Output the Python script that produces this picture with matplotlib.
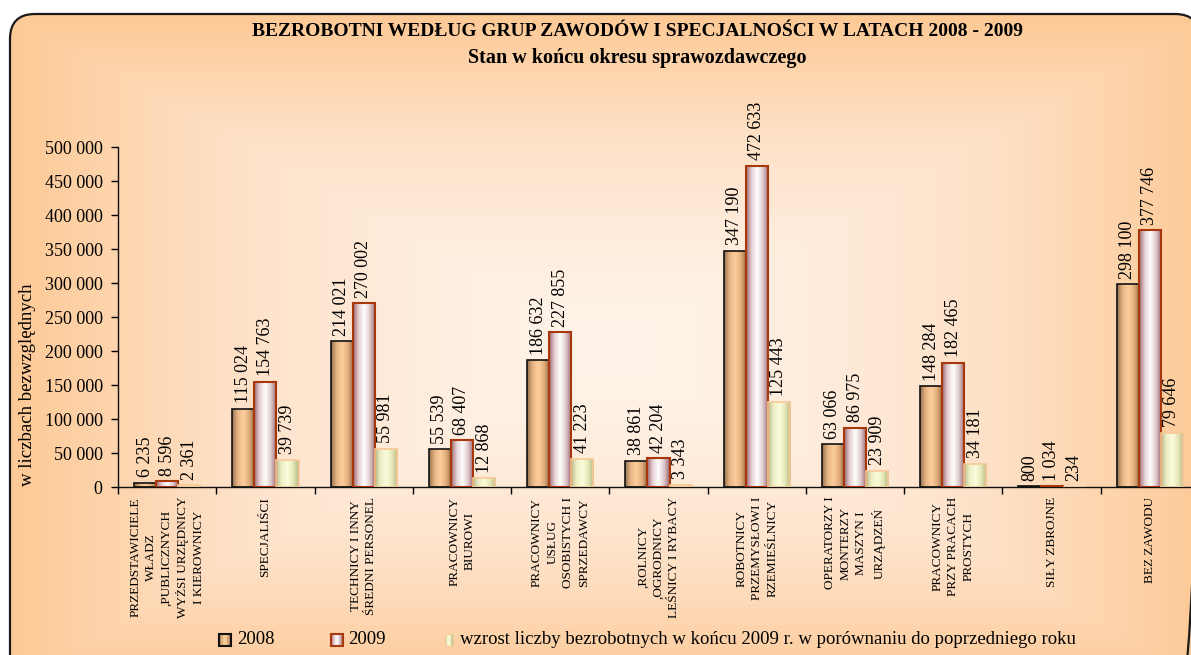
import numpy as np
import matplotlib
matplotlib.use('Agg')
import matplotlib.pyplot as plt
from matplotlib.colors import LinearSegmentedColormap
from matplotlib.patches import FancyBboxPatch, Rectangle

plt.rcParams['font.family'] = ['Liberation Serif', 'DejaVu Serif']

# Dane
kategorie = [
    'PRZEDSTAWICIELE\nWŁADZ\n,PUBLICZNYCH\nWYŻSI URZĘDNICY\nI KIEROWNICY',
    'SPECJALIŚCI',
    'TECHNICY I INNY\nŚREDNI PERSONEL',
    'PRACOWNICY\nBIUROWI',
    'PRACOWNICY\nUSŁUG\nOSOBISTYCH I\nSPRZEDAWCY',
    ',ROLNICY\n,OGRODNICY\nLEŚNICY I RYBACY',
    'ROBOTNICY\nPRZEMYSŁOWI I\nRZEMIEŚLNICY',
    'OPERATORZY I\nMONTERZY\nMASZYN I\nURZĄDZEŃ',
    'PRACOWNICY\nPRZY PRACACH\nPROSTYCH',
    'SIŁY ZBROJNE',
    'BEZ ZAWODU',
]
bezrobotni_2008 = [6235, 115024, 214021, 55539, 186632, 38861, 347190, 63066, 148284, 800, 298100]
bezrobotni_2009 = [8596, 154763, 270002, 68407, 227855, 42204, 472633, 86975, 182465, 1034, 377746]
wzrost = [2361, 39739, 55981, 12868, 41223, 3343, 125443, 23909, 34181, 234, 79646]
y_ticks = [0, 50000, 100000, 150000, 200000, 250000, 300000, 350000, 400000, 450000, 500000]

tytul = 'BEZROBOTNI WEDŁUG GRUP ZAWODÓW I SPECJALNOŚCI W LATACH 2008 - 2009'
podtytul = 'Stan w końcu okresu sprawozdawczego'
etykieta_y = 'w liczbach bezwzględnych'
legenda = ['2008', '2009',
           'wzrost liczby bezrobotnych w końcu 2009 r. w porównaniu do poprzedniego roku']


def fmt(v):
    return f'{v:,}'.replace(',', ' ')


# Gradienty (efekt "walca" jak w Excelu)
cm_2008 = LinearSegmentedColormap.from_list('c08', ['#94704f', '#e8b683', '#fccf9e', '#e2ad79', '#8a6646'])
cm_2009 = LinearSegmentedColormap.from_list('c09', ['#9a666c', '#e6d2d5', '#ffffff', '#dcc6c9', '#93616a'])
cm_wzr = LinearSegmentedColormap.from_list('cw', ['#bdbc8c', '#eef0c6', '#fbfcdc', '#e6e8b8', '#b3b282'])
grad = np.linspace(0, 1, 256).reshape(1, -1)


def wypelnij(ax, rect, cmap, zorder):
    x0, y0 = rect.get_x(), rect.get_y()
    w, h = rect.get_width(), rect.get_height()
    im = ax.imshow(grad, cmap=cmap, extent=[x0, x0 + w, y0, y0 + h],
                   aspect='auto', zorder=zorder, interpolation='bicubic')
    im.set_clip_path(rect)


W, H = 1191, 655
fig = plt.figure(figsize=(W / 100, H / 100), dpi=100)

# Tło z gradientem od środka i zaokrągloną ramką
bg = fig.add_axes([0, 0, 1, 1])
bg.axis('off')
yy, xx = np.mgrid[0:H, 0:W]
d = np.clip(np.maximum(np.abs(xx - 610) / 610, np.abs(yy - 350) / 340), 0, 1) ** 1.3
cm_tlo = LinearSegmentedColormap.from_list('tlo', ['#fff4ea', '#fee3cb', '#fdc893'])
ramka = FancyBboxPatch((10, 14), 1190, 700, boxstyle='round,pad=0,rounding_size=25',
                       fc='none', ec='#1a1a1a', lw=1.6, zorder=5)
bg.add_patch(ramka)
tlo = bg.imshow(d, cmap=cm_tlo, extent=[0, W, H, 0], aspect='auto', zorder=0)
tlo.set_clip_path(ramka)

fig.text(637 / W, 1 - 32 / H, tytul, ha='center', va='center', fontsize=14, fontweight='bold')
fig.text(637 / W, 1 - 58 / H, podtytul, ha='center', va='center', fontsize=14.5, fontweight='bold')
fig.text(28 / W, 1 - 385 / H, etykieta_y, ha='center', va='center', rotation=90, fontsize=13.5)

# Wykres
ax = fig.add_axes([118 / W, 1 - 487 / H, (1199 - 118) / W, (487 - 147) / H])
ax.set_facecolor('none')

x = np.arange(len(kategorie)) + 0.5
w = 0.225
serie = [
    (bezrobotni_2008, -w, cm_2008, '#111111', 1.2),
    (bezrobotni_2009, 0, cm_2009, '#a8380c', 1.5),
    (wzrost, w, cm_wzr, '#f7c996', 1.2),
]
for wartosci, dx, cmap, ec, lw in serie:
    bary = ax.bar(x + dx, wartosci, width=w, facecolor='none', edgecolor=ec, linewidth=lw, zorder=3)
    for rect, v in zip(bary, wartosci):
        wypelnij(ax, rect, cmap, 2)
        ax.annotate(fmt(v), (rect.get_x() + rect.get_width() / 2, v), xytext=(0, 4),
                    textcoords='offset points', rotation=90, ha='center', va='bottom',
                    fontsize=13)

ax.set_xlim(0, len(kategorie))
ax.set_ylim(0, 500000)
ax.set_yticks(y_ticks)
ax.set_yticklabels([fmt(v) for v in y_ticks], fontsize=13)
ax.set_xticks(np.arange(len(kategorie) + 1))
ax.set_xticklabels([])
ax.set_xticks(x, minor=True)
ax.set_xticklabels(kategorie, minor=True, rotation=90, ha='center', va='top',
                   multialignment='center', fontsize=9.5, linespacing=1.4)
ax.tick_params(axis='x', which='minor', length=0, pad=7)
ax.tick_params(axis='x', which='major', length=5, direction='out', width=1)
ax.tick_params(axis='y', length=5, direction='out', width=1, pad=6)
for s in ['top', 'right']:
    ax.spines[s].set_visible(False)
for s in ['left', 'bottom']:
    ax.spines[s].set_linewidth(1)
    ax.spines[s].set_color('#111111')

# Legenda
ly = 640
elementy = [
    (219, 12, cm_2008, '#111111', 1.5, 237, legenda[0]),
    (331, 12, cm_2009, '#a8380c', 1.5, 348, legenda[1]),
    (445, 8, cm_wzr, '#f7c996', 0.8, 460, legenda[2]),
]
for lx, lw_, cmap, ec, elw, tx, txt in elementy:
    r = Rectangle((lx, ly - 6), lw_, 12, fc='none', ec=ec, lw=elw, zorder=4)
    bg.add_patch(r)
    wypelnij(bg, r, cmap, 3)
    bg.text(tx, ly, txt, ha='left', va='center', fontsize=13.5, zorder=4)
bg.set_xlim(0, W)
bg.set_ylim(H, 0)

fig.savefig('out.png', dpi=100)
